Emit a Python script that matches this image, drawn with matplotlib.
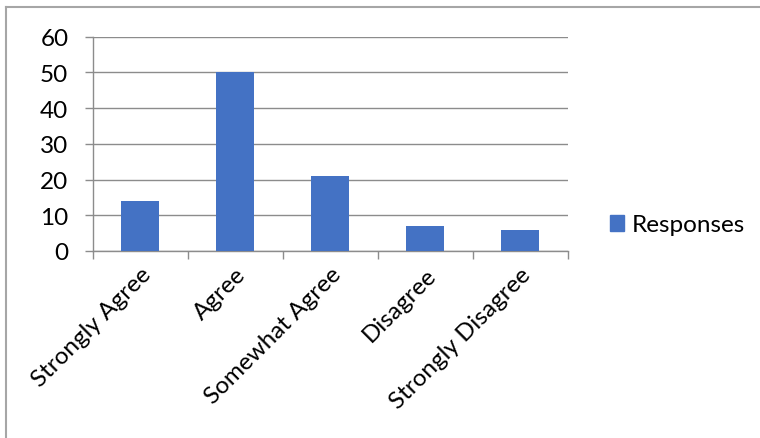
import matplotlib.pyplot as plt
from matplotlib.lines import Line2D
from matplotlib.patches import Patch

categories = ['Strongly Agree', 'Agree', 'Somewhat Agree', 'Disagree', 'Strongly Disagree']
responses = [14, 50, 21, 7, 6]
yticks = [0, 10, 20, 30, 40, 50, 60]

plt.rcParams['font.family'] = ['Lato', 'DejaVu Sans']
grid_c = '#8c8c8c'
bar_c = '#4472C4'
fs = 17.5

fig = plt.figure(figsize=(7.6, 4.39), dpi=100)
ax = fig.add_axes([92.7 / 760, 1 - 252 / 439, 475 / 760, (252 - 37.7) / 439])

x = list(range(len(categories)))
ax.bar(x, responses, width=0.4, color=bar_c, zorder=3)

ax.set_xlim(-0.5, len(categories) - 0.5)
ax.set_ylim(0, 60)
ax.set_yticks(yticks)
ax.yaxis.grid(True, color=grid_c, linewidth=1, zorder=0)
ax.tick_params(axis='y', length=5.5, color=grid_c, width=1, pad=12, labelsize=fs)

# ticks at category boundaries, labels at category centers
ax.set_xticks([i - 0.5 for i in range(len(categories) + 1)])
ax.set_xticklabels([])
ax.set_xticks(x, minor=True)
ax.set_xticklabels(categories, minor=True, rotation=45, ha='right', va='top',
                   rotation_mode='anchor', fontsize=fs)
ax.tick_params(axis='x', which='major', length=6, color=grid_c, width=1)
ax.tick_params(axis='x', which='minor', length=0, pad=9)

for s in ['top', 'right']:
    ax.spines[s].set_visible(False)
for s in ['left', 'bottom']:
    ax.spines[s].set_color(grid_c)
    ax.spines[s].set_linewidth(1)

leg = fig.legend(handles=[Patch(color=bar_c, label='Responses')],
                 loc='center left', bbox_to_anchor=(588 / 760, 1 - 226 / 439),
                 frameon=False, fontsize=fs, handlelength=0.6, handleheight=0.6,
                 handletextpad=0.3)

# chart frame (only top and left edges are visible in the reference)
fig.add_artist(Line2D([6 / 760, 6 / 760], [0, 1 - 7.5 / 439], transform=fig.transFigure,
                      color='#a6a6a6', linewidth=1.5))
fig.add_artist(Line2D([6 / 760, 1], [1 - 7.5 / 439, 1 - 7.5 / 439], transform=fig.transFigure,
                      color='#a6a6a6', linewidth=1.5))

fig.savefig('out.png', dpi=100)
